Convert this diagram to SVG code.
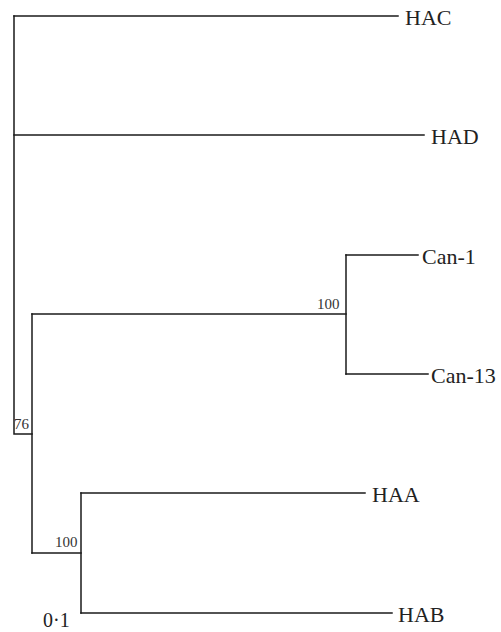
<svg xmlns="http://www.w3.org/2000/svg" width="501" height="632" viewBox="0 0 501 632">
<style>
.e{stroke:#1a1a1a;stroke-width:1.5;fill:none;stroke-linecap:square}
.t{font-family:"Liberation Serif","Times New Roman",serif;fill:#222;font-size:22px}
.b{font-family:"Liberation Serif","Times New Roman",serif;fill:#333;font-size:15px}
</style>
<rect width="501" height="632" fill="#fff"/>
<g id="connectors">
<path class="e" d="M14,16 V434 H32"/>
<path class="e" d="M14,16 H398"/>
<path class="e" d="M14,135 H424"/>
<path class="e" d="M32,314 V553"/>
<path class="e" d="M32,314 H346"/>
<path class="e" d="M346,255 V374"/>
<path class="e" d="M346,255 H418"/>
<path class="e" d="M346,374 H428"/>
<path class="e" d="M32,553 H81"/>
<path class="e" d="M81,493 V613"/>
<path class="e" d="M81,493 H365"/>
<path class="e" d="M81,613 H392"/>
</g>
<g id="HAC"><text class="t" x="405" y="25">HAC</text></g>
<g id="HAD"><text class="t" x="431" y="144">HAD</text></g>
<g id="Can-1"><text class="t" x="422" y="264">Can-1</text></g>
<g id="Can-13"><text class="t" x="431" y="383">Can-13</text></g>
<g id="HAA"><text class="t" x="372" y="502">HAA</text></g>
<g id="HAB"><text class="t" x="398" y="622">HAB</text></g>
<g id="support-labels">
<text class="b" x="14" y="429">76</text>
<text class="b" x="317" y="309">100</text>
<text class="b" x="55" y="547">100</text>
</g>
<g id="scale"><text class="t" x="43" y="627" style="font-size:20px">0·1</text></g>
</svg>
